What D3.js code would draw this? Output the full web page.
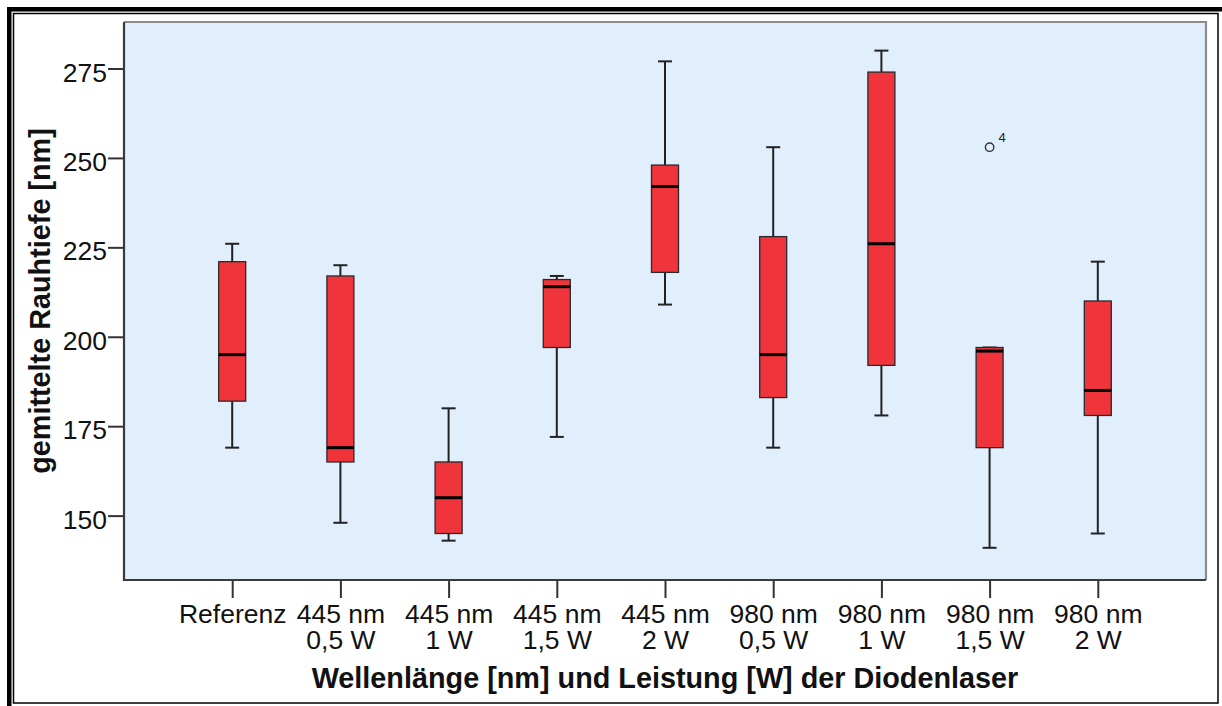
<!DOCTYPE html>
<html>
<head>
<meta charset="utf-8">
<script src="https://cdn.jsdelivr.net/npm/d3@7/dist/d3.min.js"></script>
<style>
  html, body { margin: 0; padding: 0; background: #fff; }
  svg { display: block; font-family: "Liberation Sans", Arial, sans-serif; }
</style>
</head>
<body>
<svg id="chart" width="1222" height="706"></svg>
<script>
// Group labels (two lines each) and five-number summaries per group
const categories = [
  ["Referenz"],
  ["445 nm", "0,5 W"],
  ["445 nm", "1 W"],
  ["445 nm", "1,5 W"],
  ["445 nm", "2 W"],
  ["980 nm", "0,5 W"],
  ["980 nm", "1 W"],
  ["980 nm", "1,5 W"],
  ["980 nm", "2 W"]
];
const whiskerLow  = [169, 148, 143, 172, 209, 169, 178, 141, 145];
const quartile1   = [182, 165, 145, 197, 218, 183, 192, 169, 178];
const medians     = [195, 169, 155, 214, 242, 195, 226, 196, 185];
const quartile3   = [221, 217, 165, 216, 248, 228, 274, 197, 210];
const whiskerHigh = [226, 220, 180, 217, 277, 253, 280, 197, 221];

// Outlier points: group index, value, case label
const outlierGroup = [7];
const outlierValue = [253];
const outlierLabel = ["4"];

const yTicks = [150, 175, 200, 225, 250, 275];
const yTitle = "gemittelte Rauhtiefe [nm]";
const xTitle = "Wellenlänge [nm] und Leistung [W] der Diodenlaser";

const svg = d3.select("#chart");
const W = 1222, H = 706;
const plot = { left: 124, right: 1206, top: 22, bottom: 580 };

// Outer frame: heavy top/left edge plus thin inner border
svg.append("rect").attr("x", 0).attr("y", 0).attr("width", W).attr("height", H).attr("fill", "#fff");
svg.append("rect").attr("x", 7).attr("y", 7).attr("width", W - 7).attr("height", 4.5).attr("fill", "#000");
svg.append("rect").attr("x", 7).attr("y", 7).attr("width", 4.5).attr("height", H - 7).attr("fill", "#000");
svg.append("rect").attr("x", 13.5).attr("y", 13.5).attr("width", 1218 - 13.5).attr("height", 703 - 13.5)
  .attr("fill", "none").attr("stroke", "#000").attr("stroke-width", 1.5);

const idx = categories.map((d, i) => i);
const x = d3.scalePoint().domain(idx).range([plot.left, plot.right]).padding(1);
const y = d3.scaleLinear().domain([132, 288]).range([plot.bottom, plot.top]);

// Plot background
svg.append("rect")
  .attr("x", plot.left).attr("y", plot.top)
  .attr("width", plot.right - plot.left).attr("height", plot.bottom - plot.top)
  .attr("fill", "#e1eefb");
// Top and right edges in gray
svg.append("path")
  .attr("d", `M${plot.left},${plot.top}H${plot.right}V${plot.bottom}`)
  .attr("fill", "none").attr("stroke", "#8c8c8c").attr("stroke-width", 2.2);

const boxW = 27, capW = 14;
const g = svg.append("g");
idx.forEach(i => {
  const cx = x(i);
  const grp = g.append("g");
  // whiskers
  grp.append("line").attr("x1", cx).attr("x2", cx)
    .attr("y1", y(quartile3[i])).attr("y2", y(whiskerHigh[i]))
    .attr("stroke", "#222").attr("stroke-width", 2);
  grp.append("line").attr("x1", cx).attr("x2", cx)
    .attr("y1", y(quartile1[i])).attr("y2", y(whiskerLow[i]))
    .attr("stroke", "#222").attr("stroke-width", 2);
  [whiskerHigh[i], whiskerLow[i]].forEach(v => {
    grp.append("line").attr("x1", cx - capW / 2).attr("x2", cx + capW / 2)
      .attr("y1", y(v)).attr("y2", y(v))
      .attr("stroke", "#222").attr("stroke-width", 2);
  });
  // box
  grp.append("rect")
    .attr("x", cx - boxW / 2).attr("width", boxW)
    .attr("y", y(quartile3[i])).attr("height", y(quartile1[i]) - y(quartile3[i]))
    .attr("fill", "#f0343b").attr("stroke", "#2a2a2a").attr("stroke-width", 1.3);
  // median
  grp.append("line").attr("x1", cx - boxW / 2).attr("x2", cx + boxW / 2)
    .attr("y1", y(medians[i])).attr("y2", y(medians[i]))
    .attr("stroke", "#000").attr("stroke-width", 3);
});

// Outliers
outlierGroup.forEach((gi, k) => {
  const cx = x(gi), cy = y(outlierValue[k]);
  svg.append("circle").attr("cx", cx).attr("cy", cy).attr("r", 4.2)
    .attr("fill", "none").attr("stroke", "#333").attr("stroke-width", 1.4);
  svg.append("text").attr("x", cx + 9).attr("y", cy - 5)
    .attr("font-size", 13).attr("fill", "#222").text(outlierLabel[k]);
});

// Y axis
const yAxis = svg.append("g").attr("transform", `translate(${plot.left},0)`)
  .call(d3.axisLeft(y).tickValues(yTicks).tickSize(16).tickPadding(1).tickFormat(d3.format("d")));
yAxis.select(".domain").remove();
yAxis.selectAll(".tick line").attr("stroke", "#333").attr("stroke-width", 2);
yAxis.selectAll(".tick text").attr("font-size", 26.5).attr("fill", "#111")
  .attr("font-family", "Liberation Sans, Arial, sans-serif").attr("dy", 12.5);

// X axis: two-line group labels
const xAxis = svg.append("g").attr("transform", `translate(0,${plot.bottom})`)
  .call(d3.axisBottom(x).tickSize(18).tickFormat(() => ""));
xAxis.select(".domain").remove();
xAxis.selectAll(".tick line").attr("stroke", "#333").attr("stroke-width", 2);
xAxis.selectAll(".tick").each(function (d) {
  const t = d3.select(this).append("text")
    .attr("text-anchor", "middle").attr("font-size", 26.5).attr("fill", "#111")
    .attr("font-family", "Liberation Sans, Arial, sans-serif");
  categories[d].forEach((line, j) => {
    t.append("tspan").attr("x", 0).attr("y", 43 + j * 25.5).text(line);
  });
});

// Left and bottom axis lines
svg.append("path")
  .attr("d", `M${plot.left},${plot.top}V${plot.bottom}H${plot.right}`)
  .attr("fill", "none").attr("stroke", "#3a3a3a").attr("stroke-width", 2.2);

// Axis titles
svg.append("text")
  .attr("transform", `translate(50,${(plot.top + plot.bottom) / 2}) rotate(-90)`)
  .attr("text-anchor", "middle").attr("font-size", 28.8).attr("font-weight", "bold").attr("fill", "#111")
  .text(yTitle);
svg.append("text")
  .attr("x", (plot.left + plot.right) / 2).attr("y", 688)
  .attr("text-anchor", "middle").attr("font-size", 28.8).attr("font-weight", "bold").attr("fill", "#111")
  .text(xTitle);
</script>
</body>
</html>
